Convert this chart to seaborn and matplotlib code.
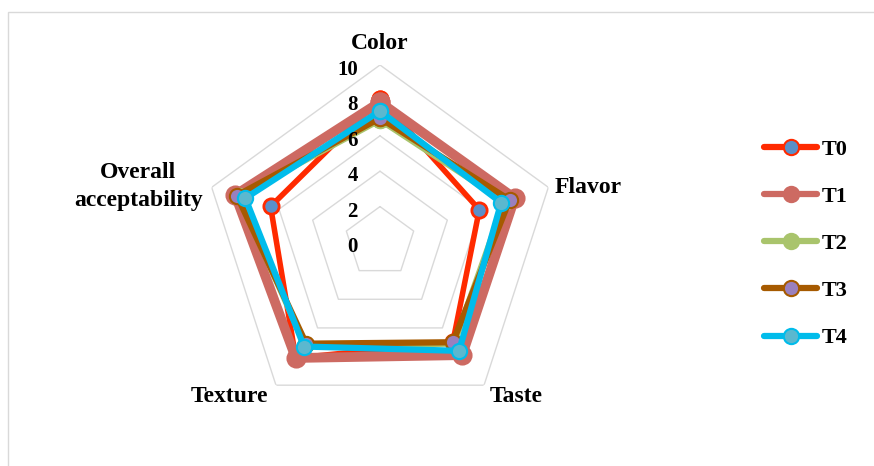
import numpy as np
import pandas as pd
import matplotlib
matplotlib.use("Agg")
import matplotlib.pyplot as plt
import matplotlib.transforms as mtransforms
from matplotlib.patches import Rectangle
from matplotlib.lines import Line2D
import seaborn as sns

categories = ["Color", "Flavor", "Taste", "Texture", "Overall\nacceptability"]
series_names = ["T0", "T1", "T2", "T3", "T4"]
T0 = [8.1, 5.9, 7.0, 8.1, 6.5]
T1 = [7.9, 8.0, 7.9, 8.1, 8.6]
T2 = [6.9, 7.4, 7.1, 7.2, 8.4]
T3 = [7.0, 7.7, 7.0, 7.1, 8.5]
T4 = [7.4, 7.2, 7.6, 7.3, 8.0]
tick_values = [0, 2, 4, 6, 8, 10]

values = {"T0": T0, "T1": T1, "T2": T2, "T3": T3, "T4": T4}
styles = {
    "T0": dict(color="#FF2A00", lw=4.0, mfc="#5B8FC8", mec="#FF2A00", ms=11, mew=2.0),
    "T1": dict(color="#CD6A62", lw=7.0, mfc="#CD6A62", mec="#CD6A62", ms=13, mew=1.5),
    "T2": dict(color="#A9C46C", lw=4.5, mfc="#A9C46C", mec="#A9C46C", ms=11, mew=1.5),
    "T3": dict(color="#A65A00", lw=4.5, mfc="#9A80BE", mec="#A65A00", ms=11, mew=1.5),
    "T4": dict(color="#00BCEB", lw=4.5, mfc="#5BB8CF", mec="#00BCEB", ms=11, mew=1.5),
}

sns.set_theme(style="white")
plt.rcParams["font.family"] = ["Liberation Serif", "DejaVu Serif"]
plt.rcParams["text.color"] = "black"

W, H = 874, 466
fig = plt.figure(figsize=(W / 100, H / 100), dpi=100)
fig.add_artist(Rectangle((8 / W, -0.05), 1.0, 1 - 12 / H + 0.05, transform=fig.transFigure,
                         fill=False, edgecolor="#D9D9D9", lw=1.0))

cx, cy, R = 380, 242, 177
ax = fig.add_axes([(cx - R) / W, 1 - (cy + R) / H, 2 * R / W, 2 * R / H], projection="polar")
ax.set_theta_offset(np.pi / 2)
ax.set_theta_direction(-1)

n = len(categories)
theta = np.linspace(0, 2 * np.pi, n, endpoint=False)
theta_closed = np.append(theta, 2 * np.pi)

# polygon grid
for r in tick_values[1:]:
    ax.plot(theta_closed, [r] * (n + 1), color="#D9D9D9", lw=1.0, zorder=1)

rows = []
for name in series_names:
    v = values[name]
    for t, val in zip(theta_closed, v + [v[0]]):
        rows.append({"series": name, "theta": t, "value": val})
df = pd.DataFrame(rows)

for i, name in enumerate(series_names):
    st = styles[name]
    sns.lineplot(data=df[df["series"] == name], x="theta", y="value", ax=ax,
                 color=st["color"], linewidth=st["lw"], marker="o",
                 markersize=st["ms"], markerfacecolor=st["mfc"],
                 markeredgecolor=st["mec"], markeredgewidth=st["mew"],
                 label=name, legend=False, zorder=3 + i, sort=True)

ax.set_ylim(0, 10)
ax.set_xticks([])
ax.set_yticks([])
ax.grid(False)
ax.spines["polar"].set_visible(False)
ax.set_xlabel("")
ax.set_ylabel("")
ax.set_facecolor("none")

# radial tick labels
off = mtransforms.offset_copy(ax.transData, fig=fig, x=-22, y=-5, units="dots")
for r in tick_values:
    ax.text(0, r, str(r), transform=off, ha="right", va="center",
            fontsize=15, fontweight="bold", color="black", zorder=20)

# category labels
label_offsets = [
    (0, 21, "center", "center"),
    (6, 0, "left", "center"),
    (6, -11, "left", "center"),
    (-8, -11, "right", "center"),
    (-9, 1, "right", "center"),
]
for t, lab, (dx, dy, ha, va) in zip(theta, categories, label_offsets):
    tr = mtransforms.offset_copy(ax.transData, fig=fig, x=dx, y=dy, units="dots")
    ax.text(t, 10, lab, transform=tr, ha=ha, va=va, fontsize=17, color="black",
            fontweight="bold", multialignment="center", linespacing=1.4)

handles = []
for name in series_names:
    st = styles[name]
    handles.append(Line2D([], [], color=st["color"], lw=4.5, marker="o",
                          markersize=11, markerfacecolor=st["mfc"],
                          markeredgecolor=st["mec"], markeredgewidth=1.5))
fig.legend(handles, series_names, loc="upper left",
           bbox_to_anchor=(744 / W, 1 - 119 / H), frameon=False,
           prop={"family": "Liberation Serif", "weight": "bold", "size": 16},
           handlelength=2.4, handletextpad=0.2, labelspacing=1.2)

fig.savefig("out.png", dpi=100, facecolor="white")
